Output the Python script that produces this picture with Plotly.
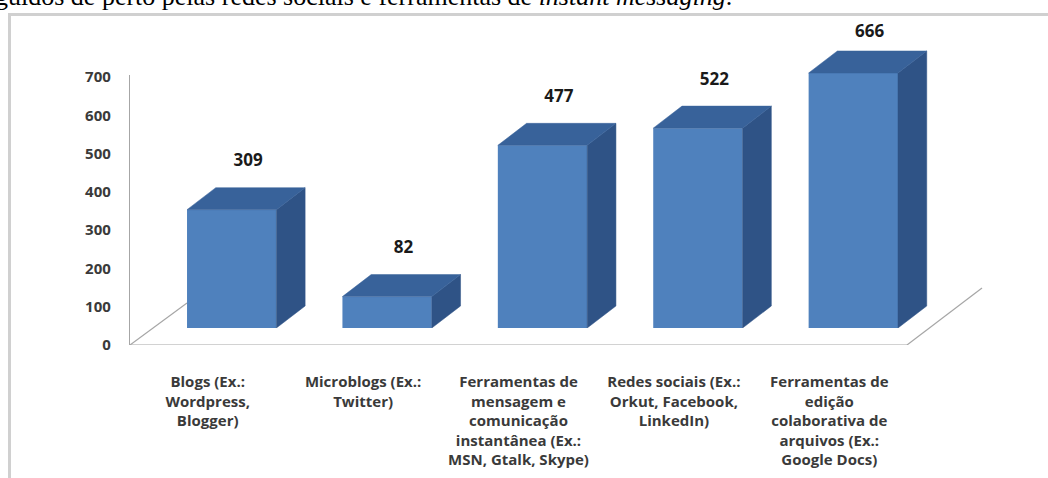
import plotly.graph_objects as go

# ---------------- data ----------------
categories = [
    "Blogs (Ex.:<br>Wordpress,<br>Blogger)",
    "Microblogs (Ex.:<br>Twitter)",
    "Ferramentas de<br>mensagem e<br>comunicação<br>instantânea (Ex.:<br>MSN, Gtalk, Skype)",
    "Redes sociais (Ex.:<br>Orkut, Facebook,<br>LinkedIn)",
    "Ferramentas de<br>edição<br>colaborativa de<br>arquivos (Ex.:<br>Google Docs)",
]
values = [309, 82, 477, 522, 666]
y_ticks = [0, 100, 200, 300, 400, 500, 600, 700]
heading = "guidos de perto pelas redes sociais e ferramentas de <i>instant messaging</i>."

# ---------------- layout constants (pixels) ----------------
W, H = 1048, 478
X0_PX = 130          # left wall / value axis
XUNIT = 155.4        # px per category
YUNIT = 0.3829       # px per value unit
AXIS_ZERO_PX = 345   # y pixel of value 0 on the axis
AXIS_TOP_PX = 75
BAR_BASE_PX = 328    # y pixel where front faces of bars sit

BAR_W = 0.575
BAR_OFF = -0.133
DX = 0.185           # depth (category units)
DY = 57.5            # depth (value units)
LABEL_DX = 0.26
LABEL_DY = 125
LABEL_CAP = 770      # labels are kept inside the chart area

FRONT = "#4F81BD"
SIDE = "#2F5386"
TOP = "#38629A"
TXT = "#3a3a3a"
FONT = "Open Sans"

xs = list(range(len(values)))

fig = go.Figure()

fig.add_trace(go.Bar(
    x=xs, y=values, width=BAR_W, offset=BAR_OFF,
    marker=dict(color=FRONT, line=dict(width=0)),
    xaxis="x", yaxis="y2", hoverinfo="skip",
))

for i, v in zip(xs, values):
    xl = i + BAR_OFF
    xr = xl + BAR_W
    fig.add_trace(go.Scatter(
        x=[xr, xr + DX, xr + DX, xr, xr], y=[0, DY, v + DY, v, 0],
        fill="toself", fillcolor=SIDE, mode="lines",
        line=dict(width=0.5, color=SIDE), xaxis="x", yaxis="y2", hoverinfo="skip",
    ))
    fig.add_trace(go.Scatter(
        x=[xl, xl + DX, xr + DX, xr, xl], y=[v, v + DY, v + DY, v, v],
        fill="toself", fillcolor=TOP, mode="lines",
        line=dict(width=0.5, color=TOP), xaxis="x", yaxis="y2", hoverinfo="skip",
    ))

fig.add_trace(go.Scatter(
    x=[i + LABEL_DX for i in xs],
    y=[min(v + LABEL_DY, LABEL_CAP) for v in values],
    text=[str(v) for v in values], mode="text",
    textfont=dict(family=FONT, size=17, color="#1a1a1a", weight="bold"),
    xaxis="x", yaxis="y2", cliponaxis=False, hoverinfo="skip",
))

# floor outline
floor = dict(type="line", xref="x", yref="y", layer="below",
             line=dict(color="#a6a6a6", width=1.2))
fig.add_shape(floor, x0=-0.5, y0=0, x1=len(values) - 0.5, y1=0)
fig.add_shape(floor, x0=len(values) - 0.5, y0=0,
              x1=len(values) - 0.5 + 75 / XUNIT, y1=57 / YUNIT)
fig.add_shape(floor, x0=-0.5, y0=0, x1=-0.5 + 57 / XUNIT, y1=42 / YUNIT)

# page frame
fig.add_shape(type="line", xref="paper", yref="paper",
              x0=9.5 / W, x1=9.5 / W, y0=0, y1=1 - 13 / H,
              line=dict(color="#d0d0d0", width=3))
fig.add_shape(type="line", xref="paper", yref="paper",
              x0=8 / W, x1=1, y0=1 - 14.5 / H, y1=1 - 14.5 / H,
              line=dict(color="#d0d0d0", width=3))

fig.add_annotation(
    text=heading, xref="paper", yref="paper", x=0, y=1,
    xanchor="left", yanchor="top", xshift=-7, yshift=20, showarrow=False,
    font=dict(family="Liberation Serif", size=26, color="black"),
)

fig.update_layout(
    width=W, height=H, autosize=False,
    margin=dict(l=0, r=0, t=0, b=0, pad=0),
    paper_bgcolor="white", plot_bgcolor="rgba(0,0,0,0)",
    showlegend=False, hovermode=False,
    xaxis=dict(
        domain=[X0_PX / W, 1], range=[-0.5, -0.5 + (W - X0_PX) / XUNIT],
        tickvals=xs, ticktext=categories, anchor="y", automargin=False,
        showline=False, showgrid=False, zeroline=False, ticks="",
        ticklabelstandoff=26,
        tickfont=dict(family=FONT, size=15, color=TXT, weight="bold"),
    ),
    yaxis=dict(
        domain=[(H - AXIS_ZERO_PX) / H, (H - AXIS_TOP_PX) / H],
        range=[0, (AXIS_ZERO_PX - AXIS_TOP_PX) / YUNIT],
        tickvals=y_ticks, anchor="x", automargin=False,
        showline=True, linecolor="#a6a6a6", linewidth=1.2,
        showgrid=False, zeroline=False, ticks="", ticklabelstandoff=15,
        tickfont=dict(family=FONT, size=15, color=TXT, weight="bold"),
    ),
    yaxis2=dict(
        domain=[(H - BAR_BASE_PX) / H, 1], automargin=False,
        range=[0, BAR_BASE_PX / YUNIT], anchor="x", visible=False,
    ),
)

fig.write_html(
    "out.html",
    config={"displayModeBar": False, "staticPlot": True},
    post_script="document.body.style.margin='0';document.body.style.overflow='hidden';",
)
